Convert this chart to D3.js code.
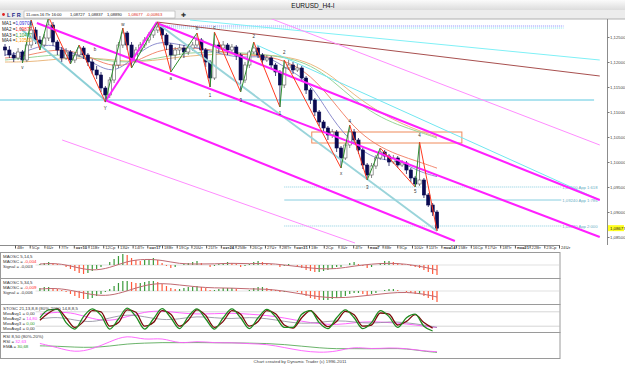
<!DOCTYPE html>
<html>
<head>
<meta charset="utf-8">
<script src="https://cdn.jsdelivr.net/npm/d3@7"></script>
<style>
  body { margin: 0; background: #fff; }
  svg { display: block; font-family: 'Liberation Sans', Arial, sans-serif; }
</style>
</head>
<body>
<div id="chart"></div>
<script>
// ---- price data (H4 bars) ----
const opens = [1.1230,1.1224,1.1214,1.1208,1.1220,1.1204,1.1234,1.1264,1.1244,1.1234,
  1.1248,1.1274,1.1240,1.1224,1.1208,1.1220,1.1204,1.1214,1.1228,1.1214,
  1.1200,1.1184,1.1174,1.1148,1.1134,1.1164,1.1194,1.1234,1.1258,1.1234,
  1.1204,1.1224,1.1234,1.1244,1.1254,1.1264,1.1270,1.1254,1.1234,1.1214,
  1.1224,1.1228,1.1220,1.1228,1.1234,1.1244,1.1224,1.1200,1.1168,1.1234,
  1.1228,1.1234,1.1224,1.1230,1.1214,1.1164,1.1194,1.1220,1.1228,1.1214,
  1.1204,1.1208,1.1194,1.1180,1.1154,1.1188,1.1194,1.1184,1.1188,1.1168,
  1.1144,1.1124,1.1100,1.1080,1.1068,1.1054,1.1060,1.1028,1.1008,1.1034,
  1.1060,1.1044,1.1024,1.0994,1.0974,1.0992,1.1008,1.1020,1.1012,1.1000,
  1.1008,1.0994,1.0998,1.0984,1.0968,1.0956,1.0964,1.0934,1.0914,1.0900];
const highs = [1.1236,1.1232,1.1220,1.1228,1.1224,1.1240,1.1284,1.1270,1.1252,1.1256,
  1.1290,1.1280,1.1244,1.1230,1.1228,1.1224,1.1220,1.1234,1.1232,1.1218,
  1.1206,1.1192,1.1180,1.1152,1.1170,1.1200,1.1240,1.1268,1.1262,1.1240,
  1.1230,1.1240,1.1250,1.1260,1.1270,1.1280,1.1274,1.1258,1.1238,1.1230,
  1.1236,1.1234,1.1236,1.1240,1.1258,1.1248,1.1228,1.1204,1.1260,1.1240,
  1.1242,1.1238,1.1236,1.1234,1.1218,1.1200,1.1224,1.1240,1.1232,1.1218,
  1.1214,1.1212,1.1198,1.1184,1.1204,1.1204,1.1200,1.1196,1.1192,1.1172,
  1.1148,1.1128,1.1104,1.1084,1.1072,1.1066,1.1064,1.1032,1.1038,1.1074,
  1.1066,1.1048,1.1028,1.0998,1.0998,1.1014,1.1028,1.1024,1.1016,1.1014,
  1.1012,1.1004,1.1002,1.0988,1.0972,1.1040,1.0968,1.0938,1.0918,1.0904];
const lows = [1.1212,1.1208,1.1200,1.1204,1.1198,1.1200,1.1228,1.1236,1.1224,1.1230,
  1.1242,1.1232,1.1214,1.1200,1.1204,1.1196,1.1198,1.1210,1.1206,1.1192,
  1.1176,1.1166,1.1140,1.1120,1.1128,1.1158,1.1188,1.1228,1.1224,1.1188,
  1.1198,1.1218,1.1228,1.1238,1.1248,1.1258,1.1246,1.1224,1.1180,1.1204,
  1.1214,1.1208,1.1214,1.1222,1.1230,1.1214,1.1190,1.1150,1.1164,1.1218,
  1.1224,1.1214,1.1220,1.1204,1.1140,1.1158,1.1188,1.1216,1.1208,1.1196,
  1.1200,1.1186,1.1172,1.1110,1.1148,1.1184,1.1176,1.1180,1.1160,1.1136,
  1.1116,1.1092,1.1072,1.1060,1.1044,1.1048,1.1020,1.0988,1.1004,1.1028,
  1.1036,1.1016,1.0986,1.0964,1.0968,1.0986,1.1004,1.1004,1.0992,1.0996,
  1.0988,1.0990,1.0976,1.0960,1.0950,1.0952,1.0928,1.0910,1.0892,1.0862];
const closes = [1.1224,1.1214,1.1208,1.1220,1.1204,1.1234,1.1264,1.1244,1.1234,1.1248,
  1.1274,1.1240,1.1224,1.1208,1.1220,1.1204,1.1214,1.1228,1.1214,1.1200,
  1.1184,1.1174,1.1148,1.1134,1.1164,1.1194,1.1234,1.1258,1.1234,1.1204,
  1.1224,1.1234,1.1244,1.1254,1.1264,1.1270,1.1254,1.1234,1.1214,1.1224,
  1.1228,1.1220,1.1228,1.1234,1.1244,1.1224,1.1200,1.1168,1.1234,1.1228,
  1.1234,1.1224,1.1230,1.1214,1.1164,1.1194,1.1220,1.1228,1.1214,1.1204,
  1.1208,1.1194,1.1180,1.1154,1.1188,1.1194,1.1184,1.1188,1.1168,1.1144,
  1.1124,1.1100,1.1080,1.1068,1.1054,1.1060,1.1028,1.1008,1.1034,1.1060,
  1.1044,1.1024,1.0994,1.0974,1.0992,1.1008,1.1020,1.1012,1.1000,1.1008,
  1.0994,1.0998,1.0984,1.0968,1.0956,1.0964,1.0934,1.0914,1.0900,1.08677];

const priceTicks = [1.125, 1.12, 1.115, 1.11, 1.105, 1.10, 1.095, 1.09, 1.085];
const lastClose = 1.08677;
const dateLabels = ['4Вт','5Ср','6Чт','7Пт','окт10','11Вт','12Ср','13Чт','14Пт','окт17',
  '18Вт','19Ср','20Чт','21Пт','окт24','25Вт','26Ср','27Чт','28Пт','окт31',
  '1Вт','2Ср','3Чт','4Пт','ноя7','8Вт','9Ср','10Чт','11Пт','ноя14',
  '15Вт','16Ср','17Чт','18Пт','ноя21','22Вт','23Ср','24Чт'];
const barText = ['11-ноя-16 Пт 16:00', '1,08727', '1,08837', '1,08890', '1,08677', '-0,00863'];

// moving averages, sampled every 5 bars
const maIdx = [0,5,10,15,20,25,30,35,40,45,50,55,60,65,70,75,80,85,90,95,99];
const ma1 = [1.1214,1.1220,1.1240,1.1220,1.1200,1.1174,1.1214,1.1244,1.1234,1.1228,1.1214,1.1208,1.1214,1.1184,1.1160,1.1084,1.1034,1.1004,1.1004,1.0980,1.09708];
const ma2 = [1.1208,1.1212,1.1224,1.1224,1.1208,1.1188,1.1200,1.1224,1.1228,1.1228,1.1220,1.1214,1.1212,1.1200,1.1174,1.1124,1.1068,1.1034,1.1014,1.1000,1.09877];
const ma3 = [1.1204,1.1208,1.1214,1.1214,1.1208,1.1200,1.1200,1.1208,1.1216,1.1220,1.1220,1.1218,1.1214,1.1208,1.1194,1.1164,1.1124,1.1094,1.1074,1.1060,1.10477];
const ma4 = [1.1200,1.1200,1.1204,1.1208,1.1208,1.1204,1.1200,1.1204,1.1210,1.1214,1.1216,1.1216,1.1214,1.1210,1.1198,1.1172,1.1134,1.1104,1.1080,1.1062,1.10500];
const maNames = ['MA1', 'MA2', 'MA3', 'MA4'];
const maValues = ['1,09708', '1,09877', '1,10477', '1,10500'];

// zigzag pivots (bar index, price)
const zigzagIdx = [4,6,8,10,15,17,23,27,29,35,38,44,47,48,54,57,63,64,77,79,83,86,94,95,99];
const zigzagPrice = [1.1198,1.1284,1.1224,1.1290,1.1196,1.1234,1.1120,1.1268,1.1188,1.1280,1.1180,1.1258,1.1150,1.1260,1.1140,1.1240,1.1110,1.1204,1.0988,1.1074,1.0964,1.1028,1.0950,1.1040,1.0862];
const waveText = ['v','b','Y','w','a','b','1','c','3','2','1','2','x','4','3','5','4'];
const waveIdx = [4,20.6,23,27,38,44,47,48,54,57,63,64,77,79,83,94,95];
const wavePrice = [1.1190,1.1226,1.1108,1.1276,1.1168,1.1268,1.1134,1.1270,1.1124,1.1252,1.1098,1.1220,1.0978,1.1082,1.0950,1.0942,1.1054];

// drawn trend lines: [bar index, price] pairs
const channelA = [[7.3, 1.1278], [136.3, 1.0850]];
const channelB = [[34.8, 1.1278], [136.3, 1.0924]];
const channelC = [[22.9, 1.1124], [103.1, 1.0842]];
const legUp = [[22.9, 1.1120], [34.8, 1.1280]];
const pinkTop = [[60, 1.1290], [136.3, 1.1034]];
const pinkLow = [[13.1, 1.1044], [80.2, 1.0838]];
const brownLine = [[34.8, 1.1280], [136.3, 1.1172]];
const cyanTop = [[42.4, 1.1284], [136.3, 1.1204]];
const cyanMid = [[57.7, 1.1234], [136.3, 1.0924]];
const tealFall = [[34.8, 1.1278], [99, 1.0862]];
const tealLeft = [[3.4, 1.1268], [22.9, 1.1124]];
const hLevel = [[-2, 1.1124], [135, 1.1124]];
const dotTop1 = [[34.8, 1.1272], [128, 1.1272]];
const dotTop2 = [[34.8, 1.1268], [128, 1.1268]];
const boxIdx = [70.3, 104.7];
const boxPrice = [1.1060, 1.1038];

const fibStart = 64;
const fibEnd = 127.5;
const fibPrices = [1.0950, 1.0924, 1.0872];
const fibLabels = ['1,09500 App 1:618', '1,09240 App 1:786', '1,08720 App 2:000'];

// indicators
const hist1 = [null,null,null,null,null,null,null,null,
  1,2,3,2,1,0, -2,-4,-6,-8,-9,-8,-6,-4,-2, 0,3,6,9,11,10,7,5, 4,5,6,7,5,2,-1,
  -3,-2,0,1,2,3,4, 2,0,-2,-1,1,2,3,2,1, -2,-1,1,3,4,3,2,1,0,
  -2,-1,1,0,-1,-3,-5,-6,-7,-7, -6,-5,-4,-2,-2,0,2,3,1,-1,
  -3,-2,0,2,4,4,3,2,1,0,-1,-2, -3,-5,-7,-9,-10];
const hist2 = [null,null,null,null,null,null,null,null,
  3,4,4,3,2,1, -1,-3,-5,-7,-8,-8,-7,-5,-3, -1,2,5,8,10,10,9,8, 8,9,10,10,9,7,5,
  3,2,2,3,4,4,5, 4,3,1,1,2,3,3,3,2, 0,0,1,3,4,4,3,2,1,
  -1,-1,0,0,-1,-3,-5,-7,-8,-9, -9,-9,-8,-7,-7,-5,-3,-2,-2,-3,
  -4,-3,-2,0,1,2,2,1,0,-1,-2,-3, -3,-5,-7,-9,-11];
const coarseIdx = [8,12,16,20,24,28,32,36,40,44,48,52,56,60,64,68,72,76,80,84,88,92,96,99];
const signal1 = [1,2,-2,-6,-3,4,6,5,1,1,1,2,1,2,0,-2,-4,-4,-1,1,2,1,-2,-5];
const signal2 = [2,3,0,-4,-5,0,6,8,6,4,3,3,2,2,0,-3,-6,-7,-6,-4,-2,-1,-3,-6];

const stochIdx = [8,10,12,14,16,18,20,22,24,26,28,30,32,34,36,38,40,42,44,46,48,50,52,54,56,58,60,62,64,66,68,70,72,74,76,78,80,82,84,86,88,90,92,94,96,98];
const stochK = [55,88,90,35,8,60,92,65,8,50,95,60,8,50,93,55,10,60,92,50,8,55,92,55,10,55,90,60,15,15,70,85,35,10,55,88,55,10,35,85,60,15,55,70,20,0];
const stochD = [45,75,92,55,15,40,85,80,20,35,88,78,20,35,85,70,20,45,88,65,15,40,85,70,20,40,85,72,25,12,55,85,50,18,40,82,68,20,25,75,70,25,40,68,35,12];
const stochSlow = [50,60,45,35,55,70,60,45,50,62,55,50,58,52,40,30,35,45,38,30,40,35,25,15];
const stochAvg2 = [70,80,75,50,40,60,80,85,75,70,72,75,70,65,55,40,30,25,35,40,35,30,20,14.8];
const rsi = [57,45,30,40,62,83,66,75,55,65,58,60,56,55,45,35,30,33,48,40,45,42,35,32.63];
const rsiEma = [50,49,46,45,49,56,58,60,59,60,59,59,58,57,54,49,44,41,42,41,42,42,34,30.68];

// ---- drawing ----
const svg = d3.select('#chart').append('svg').attr('width', 625).attr('height', 365);
const defs = svg.append('defs');
const fmt = (v, d) => v.toFixed(d).replace('.', ',');

const grad = defs.append('linearGradient').attr('id', 'tb').attr('x1', 0).attr('y1', 0).attr('x2', 0).attr('y2', 1);
grad.append('stop').attr('offset', 0).attr('stop-color', '#fbfbfb');
grad.append('stop').attr('offset', 1).attr('stop-color', '#dcdcdc');

// title bar + toolbar
svg.append('rect').attr('x', 0).attr('y', 0).attr('width', 625).attr('height', 10).attr('fill', 'url(#tb)');
svg.append('text').attr('x', 313).attr('y', 7.5).attr('text-anchor', 'middle')
  .attr('font-size', 6.5).attr('fill', '#111').text('EURUSD_H4-I');
svg.append('rect').attr('x', 0).attr('y', 10).attr('width', 625).attr('height', 9).attr('fill', '#ececec');
svg.append('line').attr('x1', 0).attr('x2', 625).attr('y1', 19).attr('y2', 19).attr('stroke', '#b0b0b0');
svg.append('circle').attr('cx', 3.5).attr('cy', 14.5).attr('r', 1.4).attr('fill', '#e02020');
svg.append('text').attr('x', 7).attr('y', 16.8).attr('font-size', 5.5).attr('font-weight', 'bold').attr('fill', '#1a2a8a').text('L  F  R');
svg.append('rect').attr('x', 24).attr('y', 11).attr('width', 151).attr('height', 7).attr('fill', '#fff').attr('stroke', '#9a9a9a').attr('stroke-width', 0.5);
const barTextX = [26, 70, 88, 107, 128, 146];
barText.forEach((t, k) => svg.append('text').attr('x', barTextX[k]).attr('y', 16.4).attr('font-size', 4.1)
  .attr('fill', k >= 4 ? '#e03020' : '#222').text(t));
svg.append('text').attr('x', 181).attr('y', 17).attr('font-size', 6).attr('fill', '#333').text('✚');

// main price pane
const x = d3.scaleLinear().domain([0, 99]).range([5, 437]);
const y = d3.scaleLinear().domain([1.085, 1.125]).range([237, 37]);

defs.append('clipPath').attr('id', 'mainClip').append('rect').attr('x', 0).attr('y', 19).attr('width', 607).attr('height', 226);
const plot = svg.append('g').attr('clip-path', 'url(#mainClip)');

const seg = (pts, color, w, dash) => plot.append('line')
  .attr('x1', x(pts[0][0])).attr('y1', y(pts[0][1]))
  .attr('x2', x(pts[1][0])).attr('y2', y(pts[1][1]))
  .attr('stroke', color).attr('stroke-width', w).attr('stroke-dasharray', dash || null);

seg(hLevel, '#5cc8e0', 1);
seg(dotTop1, '#8a8aff', 1, '1,1');
seg(dotTop2, '#7fe0ea', 1, '1,1');
fibPrices.forEach((p, k) => {
  plot.append('line').attr('x1', x(fibStart)).attr('x2', x(fibEnd)).attr('y1', y(p)).attr('y2', y(p))
    .attr('stroke', '#7cc8dc').attr('stroke-width', 0.9).attr('stroke-dasharray', k === 1 ? null : '1,1');
  plot.append('text').attr('x', x(fibEnd) + 1).attr('y', y(p) + 1.5).attr('font-size', 4.2)
    .attr('fill', '#6aaec4').text(fibLabels[k]);
});
plot.append('rect').attr('x', x(boxIdx[0])).attr('y', y(boxPrice[0]))
  .attr('width', x(boxIdx[1]) - x(boxIdx[0])).attr('height', y(boxPrice[1]) - y(boxPrice[0]))
  .attr('fill', 'none').attr('stroke', '#f08a5a').attr('stroke-width', 1);

// moving averages
const maLine = d3.line().x((d, k) => x(maIdx[k])).y(d => y(d)).curve(d3.curveBasis);
[[ma4, '#e8b070'], [ma3, '#8ccf8c'], [ma2, '#f07a60'], [ma1, '#8080c8']].forEach(([s, c]) =>
  plot.append('path').attr('d', maLine(s)).attr('fill', 'none').attr('stroke', c).attr('stroke-width', 0.9));

// candles
const bars = plot.append('g');
closes.forEach((c, i) => {
  const o = opens[i], down = c < o;
  bars.append('line').attr('x1', x(i)).attr('x2', x(i)).attr('y1', y(highs[i])).attr('y2', y(lows[i]))
    .attr('stroke', down ? '#1b1b5a' : '#6a6a6a').attr('stroke-width', 0.8);
  bars.append('rect').attr('x', x(i) - 1.6).attr('width', 3.2)
    .attr('y', y(Math.max(o, c))).attr('height', Math.max(1, Math.abs(y(o) - y(c))))
    .attr('fill', down ? '#0a0a52' : '#ffffff').attr('stroke', down ? '#0a0a52' : '#5a5a5a').attr('stroke-width', 0.6);
});

// trend lines
seg(tealLeft, '#8ccfd6', 2);
seg(tealFall, '#9ad4da', 2);
seg(cyanTop, '#7ff0f6', 1);
seg(cyanMid, '#70e6f0', 1);
seg(brownLine, '#a8504f', 1);
seg(pinkTop, '#ff8cff', 1);
seg(pinkLow, '#ff8cff', 1);
seg(channelA, '#ff20ff', 2);
seg(channelB, '#ff20ff', 2);
seg(channelC, '#ff20ff', 2);
seg(legUp, '#ff20ff', 2);

// zigzag
for (let k = 1; k < zigzagIdx.length; k++) {
  const up = zigzagPrice[k] > zigzagPrice[k - 1];
  seg([[zigzagIdx[k - 1], zigzagPrice[k - 1]], [zigzagIdx[k], zigzagPrice[k]]], up ? '#2f8f2f' : '#ff3a20', 1);
}
waveText.forEach((t, k) => plot.append('text').attr('x', x(waveIdx[k])).attr('y', y(wavePrice[k]) + 1.5)
  .attr('text-anchor', 'middle').attr('font-size', 4.5).attr('fill', '#333').text(t));

// legend
maNames.forEach((n, k) => {
  const t = plot.append('text').attr('x', 2).attr('y', 25 + k * 5.8).attr('font-size', 4.6).attr('fill', '#222');
  t.append('tspan').text(n + ' =');
  t.append('tspan').attr('fill', ['#2b2bd8', '#ff2a2a', '#2a9a2a', '#ff9a00'][k]).text(maValues[k]);
});

// right price axis
svg.append('line').attr('x1', 607.5).attr('x2', 607.5).attr('y1', 19).attr('y2', 245).attr('stroke', '#8c8c8c');
const yAxis = svg.append('g').attr('transform', 'translate(607.5,0)')
  .call(d3.axisRight(y).tickValues(priceTicks).tickSize(2).tickFormat(d => fmt(d, 5)));
yAxis.select('.domain').remove();
yAxis.selectAll('line').attr('stroke', '#777');
yAxis.selectAll('text').attr('font-size', 4.3).attr('fill', '#444').attr('x', 2.5).attr('font-family', 'Liberation Sans, Arial');
svg.append('rect').attr('x', 608).attr('y', y(lastClose) - 3).attr('width', 16).attr('height', 6).attr('fill', '#ffff20');
svg.append('text').attr('x', 610).attr('y', y(lastClose) + 1.6).attr('font-size', 4.3).attr('fill', '#222').text(fmt(lastClose, 5));

// date axis
const slot = d3.scaleLinear().domain([0, dateLabels.length - 1]).range([15, 559]);
svg.append('line').attr('x1', 0).attr('x2', 560).attr('y1', 245.5).attr('y2', 245.5).attr('stroke', '#8c8c8c');
const xAxis = svg.append('g').attr('transform', 'translate(0,245.5)')
  .call(d3.axisBottom(slot).tickValues(dateLabels.map((d, i) => i)).tickSize(3).tickFormat((d, i) => dateLabels[i]));
xAxis.select('.domain').remove();
xAxis.selectAll('line').attr('stroke', '#555');
xAxis.selectAll('text').attr('font-size', 4.2).attr('fill', '#333').attr('text-anchor', 'start')
  .attr('x', 1.5).attr('y', 1).attr('font-family', 'Liberation Sans, Arial')
  .attr('font-weight', (d, i) => i % 5 === 4 ? 'bold' : null);

// indicator panes
function pane(top, h, id) {
  defs.append('clipPath').attr('id', id).append('rect').attr('x', 0).attr('y', top).attr('width', 560).attr('height', h);
  svg.append('rect').attr('x', 0.5).attr('y', top + 0.5).attr('width', 559.5).attr('height', h)
    .attr('fill', '#fff').attr('stroke', '#9a9a9a').attr('stroke-width', 1);
  return svg.append('g').attr('clip-path', `url(#${id})`);
}
function labels(g, top, rows) {
  rows.forEach((r, k) => {
    const t = g.append('text').attr('x', 3).attr('y', top + 5.5 + k * 5).attr('font-size', 4.4).attr('fill', '#333');
    t.append('tspan').text(r[0]);
    if (r[1]) t.append('tspan').attr('fill', r[2]).text(r[1]);
  });
}
const coarseLine = (sc) => d3.line().defined(d => d != null).x((d, k) => x(coarseIdx[k])).y(d => sc(d)).curve(d3.curveBasis);

function macdPane(top, h, hist, sig, rows, id) {
  const g = pane(top, h, id);
  const sc = d3.scaleLinear().domain([-12, 12]).range([top + h - 1, top + 1]);
  g.append('line').attr('x1', x(7)).attr('x2', 560).attr('y1', sc(0)).attr('y2', sc(0)).attr('stroke', '#cfcfcf').attr('stroke-width', 0.6);
  hist.forEach((v, i) => {
    if (v == null) return;
    const prev = hist[i - 1];
    g.append('line').attr('x1', x(i)).attr('x2', x(i)).attr('y1', sc(0)).attr('y2', sc(v))
      .attr('stroke', prev != null && v < prev ? '#ff5a3c' : '#3a9a3a').attr('stroke-width', 1.2);
  });
  g.append('path').attr('d', coarseLine(sc)(sig)).attr('fill', 'none').attr('stroke', '#c06a72').attr('stroke-width', 1);
  labels(g, top, rows);
}
macdPane(252, 26, hist1, signal1, [['MAOSC 5,14,5'], ['MAOSC = ', '-0,004', '#ff2a2a'], ['Signal = -0,003']], 'p1');
macdPane(278, 26, hist2, signal2, [['MAOSC 5,34,5'], ['MAOSC = ', '-0,009', '#ff2a2a'], ['Signal = -0,006']], 'p2');

// stochastic
const g3 = pane(304, 28, 'p3');
const s3 = d3.scaleLinear().domain([0, 100]).range([331, 307]);
[80, 20].forEach(v => g3.append('line').attr('x1', x(7)).attr('x2', 560).attr('y1', s3(v)).attr('y2', s3(v)).attr('stroke', '#b8b8b8').attr('stroke-width', 0.6));
g3.append('path').attr('d', coarseLine(s3)(stochAvg2)).attr('fill', 'none').attr('stroke', '#ff55ff').attr('stroke-width', 0.9);
g3.append('path').attr('d', coarseLine(s3)(stochSlow)).attr('fill', 'none').attr('stroke', '#8a8a9a').attr('stroke-width', 0.8);
const stLine = d3.line().x((d, k) => x(stochIdx[k])).y(d => s3(d)).curve(d3.curveMonotoneX);
g3.append('path').attr('d', stLine(stochD)).attr('fill', 'none').attr('stroke', '#7a0a0a').attr('stroke-width', 1.3);
g3.append('path').attr('d', stLine(stochK)).attr('fill', 'none').attr('stroke', '#1f8a1f').attr('stroke-width', 1.3);
labels(g3, 304, [['STOSC 21,13,8,8 (80%-20%) 14,8,8,5'], ['MovAvg1 = 0,00'], ['MovAvg2 = ', '14,80', '#ff3aff'],
  ['MovAvg3 = ', '0,00', '#2a9a2a'], ['MovAvg4 = 0,00']]);

// RSI
const g4 = pane(332, 26, 'p4');
const s4 = d3.scaleLinear().domain([20, 85]).range([356, 334]);
g4.append('path').attr('d', coarseLine(s4)(rsiEma)).attr('fill', 'none').attr('stroke', '#5aaa5a').attr('stroke-width', 0.9);
g4.append('path').attr('d', coarseLine(s4)(rsi)).attr('fill', 'none').attr('stroke', '#ff5aff').attr('stroke-width', 0.9);
labels(g4, 332, [['RSI 8,50 (80%-20%)'], ['RSI = ', '32,63', '#ff3aff'], ['EMA = ', '30,68', '#2a9a2a']]);

svg.append('text').attr('x', 300).attr('y', 362.5).attr('text-anchor', 'middle').attr('font-size', 4.4)
  .attr('fill', '#444').text('Chart created by Dynamic Trader (c) 1996-2011');
</script>
</body>
</html>
